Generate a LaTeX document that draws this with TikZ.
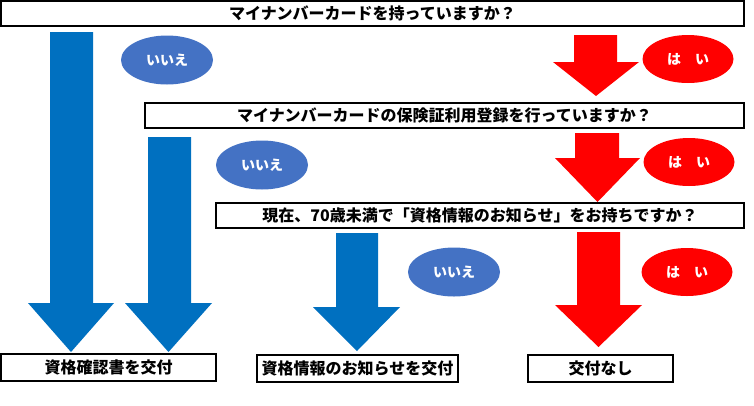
\documentclass[tikz,border=0pt]{standalone}
\usepackage{fontspec}
\usetikzlibrary{shapes.geometric}
\newfontfamily\jp{Noto Sans CJK JP}
\definecolor{arrowblue}{HTML}{0070C0}
\definecolor{ellblue}{HTML}{4472C4}
\definecolor{pred}{HTML}{FF0000}
\newcommand\blockarrow[9]{%
  \fill[#1] (#2,#4) -- (#3,#4) -- (#3,#7) -- (#6,#7) -- (#9,#8) -- (#5,#7) -- (#2,#7) -- cycle;}
\begin{document}
\begin{tikzpicture}[x=1pt,y=-1pt,
  qbox/.style={draw=black, line width=1.3pt, fill=white, inner sep=0pt,
    font=\jp\bfseries\fontsize{16}{18}\selectfont},
  nobubble/.style={ellipse, fill=ellblue, draw=none, minimum width=92pt, minimum height=49pt,
    inner sep=0pt, text=white, font=\jp\bfseries\fontsize{14}{16}\selectfont},
  yesbubble/.style={ellipse, fill=pred, draw=none, minimum width=91pt, minimum height=48pt,
    inner sep=0pt, text=white, font=\jp\bfseries\fontsize{14}{16}\selectfont}]
\useasboundingbox[fill=white] (0,0) rectangle (754,405);

% blue arrows (no)
\blockarrow{arrowblue}{50}{93}{32}{28}{114}{303}{352}{71}
\blockarrow{arrowblue}{148}{191}{137}{125}{212}{303}{352}{168.5}
\blockarrow{arrowblue}{336}{378}{233}{313}{400}{307}{351}{357}
% red arrows (yes)
\blockarrow{pred}{574}{617}{35}{553}{639}{62}{96}{596}
\blockarrow{pred}{575}{619}{133}{555}{640}{158}{202}{597.5}
\blockarrow{pred}{577}{620}{232}{555}{642}{305}{347}{598.5}

% question boxes
\node[qbox, minimum width=743pt, minimum height=25pt] (q1) at (372.5,13.5) {マイナンバーカードを持っていますか？};
\node[qbox, minimum width=599pt, minimum height=25pt] (q2) at (444.5,115.5) {マイナンバーカードの保険証利用登録を行っていますか？};
\node[qbox, minimum width=528pt, minimum height=25pt] (q3) at (480,215.5) {現在、70歳未満で「資格情報のお知らせ」をお持ちですか？};

% result boxes
\node[qbox, minimum width=215pt, minimum height=27pt] (r1) at (108.5,367.5) {資格確認書を交付};
\node[qbox, minimum width=201pt, minimum height=27pt] (r2) at (357.5,368.5) {資格情報のお知らせを交付};
\node[qbox, minimum width=145pt, minimum height=27pt] (r3) at (600.5,368.5) {交付なし};

% bubbles
\node[nobubble] (n1) at (167,60) {いいえ};
\node[nobubble] (n2) at (262,165) {いいえ};
\node[nobubble] (n3) at (454,272) {いいえ};
\node[yesbubble] (y1) at (688,59) {は　い};
\node[yesbubble] (y2) at (689,162) {は　い};
\node[yesbubble] (y3) at (687,272) {は　い};
\end{tikzpicture}
\end{document}
